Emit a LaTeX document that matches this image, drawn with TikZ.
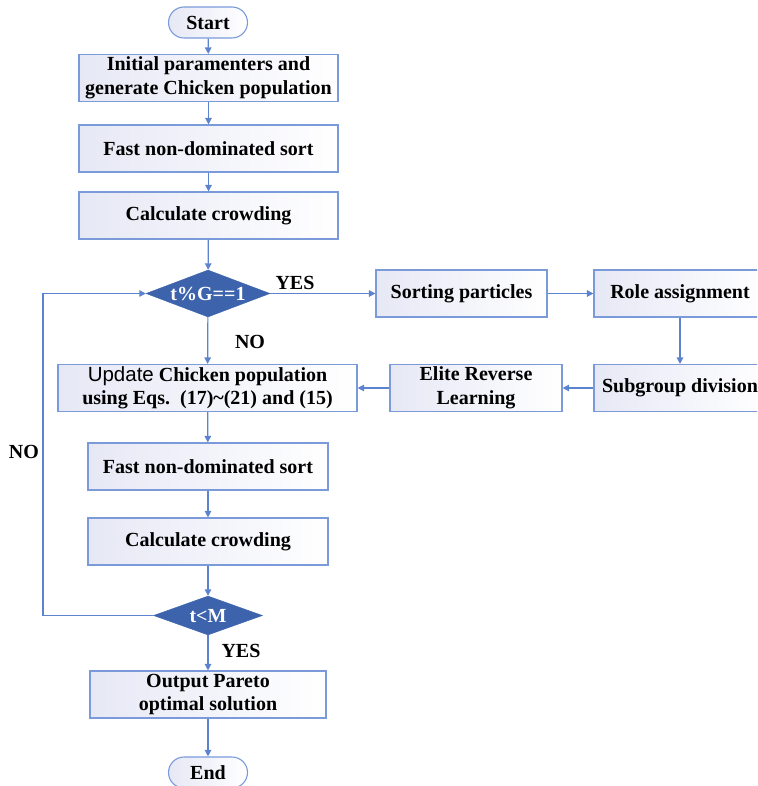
\documentclass[tikz,border=0pt]{standalone}
\usepackage{fontspec}
\setmainfont{Liberation Serif}
\newfontfamily\arialfont{Liberation Sans}
\usetikzlibrary{shapes.geometric,arrows.meta}
\definecolor{bord}{HTML}{7A9ADA}
\definecolor{lin}{HTML}{5C84CE}
\definecolor{dfill}{HTML}{3C63AC}
\definecolor{tint}{HTML}{E6E8F5}
\newcommand{\ztext}[1]{\makebox[0pt]{\raisebox{-6.8pt}[0pt][0pt]{#1}}}
\tikzset{
  base/.style={font=\bfseries\fontsize{20}{23.5}\selectfont},
  pbox/.style={base, draw=bord, line width=1.1pt, shading=axis, shading angle=-60, left color=tint, right color=white, align=center, inner sep=0pt, minimum height=47pt},
  term/.style={pbox, rounded corners=15.5pt, minimum height=31pt, minimum width=79pt},
  dec/.style={diamond, base, fill=dfill, draw=dfill, text=white, inner sep=0pt},
  conn/.style={draw=lin, line width=1.2pt, -{Triangle[length=6.5pt,width=6.5pt]}},
  lab/.style={base}
}
\begin{document}
\begin{tikzpicture}[x=1pt,y=-1pt]
\useasboundingbox (0,0) rectangle (757,786);
\begin{scope}
\clip (0,0) rectangle (757,786);
\node[term] (start) at (208,22.5) {Start};
\node[pbox, minimum width=259pt] (init) at (208.5,78) {Initial paramenters and\\generate Chicken population};
\node[pbox, minimum width=259pt] (sort1) at (208.5,148.5) {Fast non-dominated sort};
\node[pbox, minimum width=259pt] (crowd1) at (208.5,215.5) {Calculate crowding};
\node[dec, minimum width=124pt, minimum height=47pt] (d1) at (208,293.5) {\ztext{t\%G==1}};
\node[pbox, minimum width=171pt] (sortp) at (461.5,293.5) {Sorting particles};
\node[pbox, minimum width=172pt] (role) at (680,293.5) {Role assignment};
\node[pbox, minimum width=172pt] (sub) at (680,388) {Subgroup division};
\node[pbox, minimum width=172pt] (elite) at (476,388) {Elite Reverse\\Learning};
\node[pbox, minimum width=299pt] (upd) at (207.5,388) {{\arialfont\mdseries\fontsize{20.5}{23.5}\selectfont Update} Chicken population\\using Eqs.\ \ (17)\textasciitilde(21) and (15)};
\node[pbox, minimum width=240pt] (sort2) at (208,466.5) {Fast non-dominated sort};
\node[pbox, minimum width=240pt] (crowd2) at (208,541.5) {Calculate crowding};
\node[dec, minimum width=109pt, minimum height=39pt] (d2) at (208,615.5) {\ztext{t<M}};
\node[pbox, minimum width=236pt] (out) at (208,694.5) {Output Pareto\\optimal solution};
\node[term] (end) at (208,772.5) {End};
\end{scope}
\coordinate (lb) at (43,615.5);
\coordinate (lt) at (43,293.5);
\draw[conn] (start) -- (init);
\draw[conn] (init) -- (sort1);
\draw[conn] (sort1) -- (crowd1);
\draw[conn] (crowd1) -- (d1);
\draw[conn] (d1) -- (sortp);
\draw[conn] (sortp) -- (role);
\draw[conn] (role) -- (sub);
\draw[conn] (sub) -- (elite);
\draw[conn] (elite) -- (upd);
\draw[conn] (d1) -- (upd);
\draw[conn] (upd) -- (sort2);
\draw[conn] (sort2) -- (crowd2);
\draw[conn] (crowd2) -- (d2);
\draw[conn] (d2) -- (out);
\draw[conn] (out) -- (end);
\draw[conn] (d2.west) -- (lb) -- (lt) -- (d1.west);
\node[lab] (yes1) at (295,283) {YES};
\node[lab] (no1) at (250,342) {NO};
\node[lab] (no2) at (24,452) {NO};
\node[lab] (yes2) at (241,651) {YES};
\end{tikzpicture}
\end{document}
